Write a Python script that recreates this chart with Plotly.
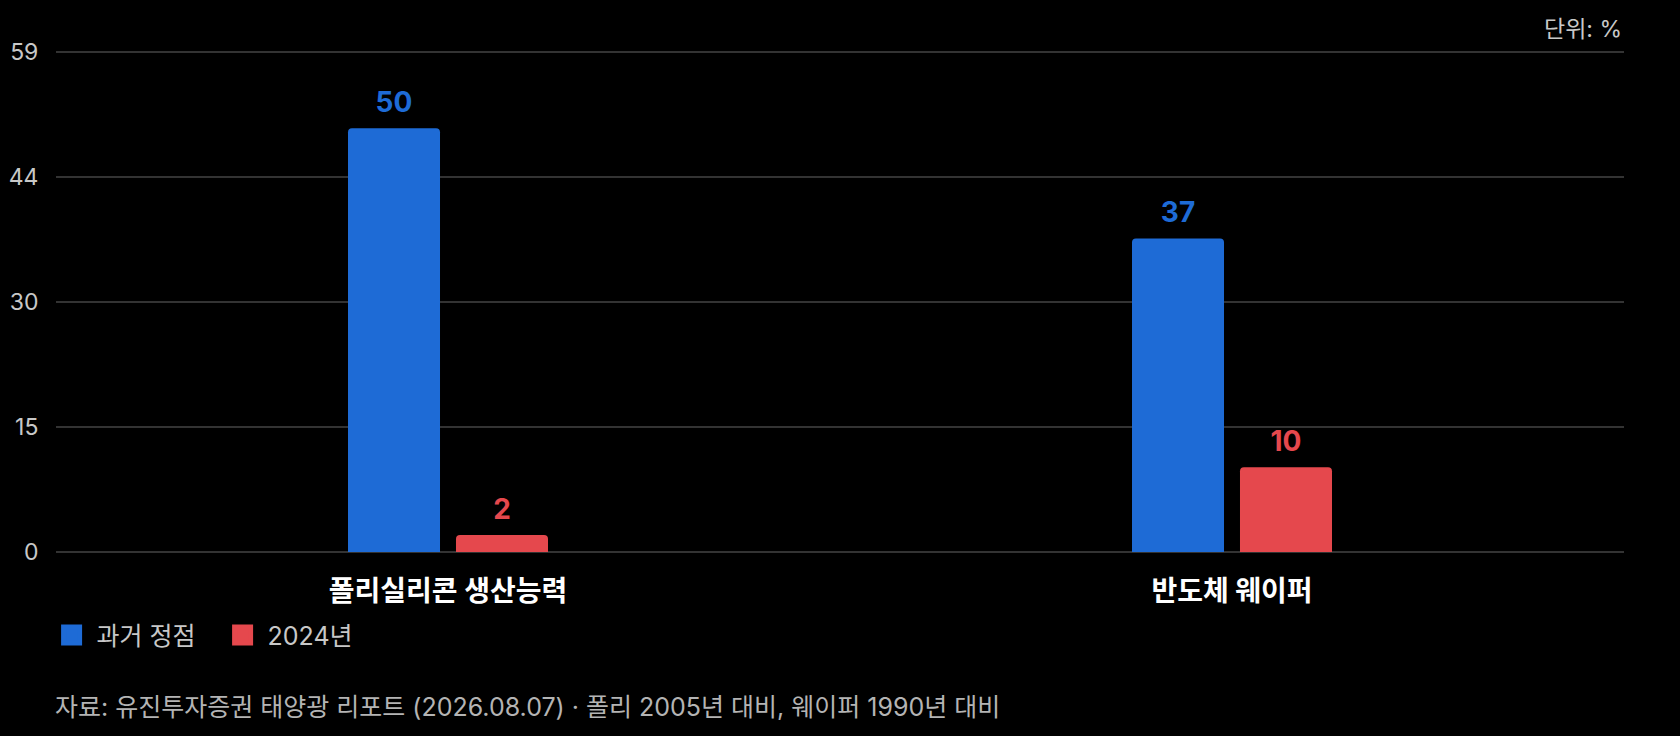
import plotly.graph_objects as go

# Data
categories = ["폴리실리콘 생산능력", "반도체 웨이퍼"]
series_names = ["과거 정점", "2024년"]
past_peak = [50, 37]
year_2024 = [2, 10]
y_tick_vals = [0, 14.75, 29.5, 44.25, 59]
y_tick_labels = ["0", "15", "30", "44", "59"]
unit_label = "단위: %"
source_note = "자료: 유진투자증권 태양광 리포트 (2026.08.07) · 폴리 2005년 대비, 웨이퍼 1990년 대비"

BLUE = "#1e6bd6"
RED = "#e5484d"
FONT = "Inter, Noto Sans CJK KR"

fig = go.Figure()

series = [(series_names[0], past_peak, BLUE, "a"), (series_names[1], year_2024, RED, "b")]

for name, vals, color, grp in series:
    fig.add_trace(go.Bar(x=categories, y=vals, name=name, showlegend=False,
                         marker=dict(color=color, cornerradius=4, line=dict(width=0)),
                         offsetgroup=grp, hoverinfo="skip"))

# value labels above the bars
for name, vals, color, grp in series:
    fig.add_trace(go.Scatter(x=categories, y=vals, mode="markers+text",
                             text=["<b>%d</b>" % v for v in vals],
                             textposition="top center",
                             textfont=dict(family=FONT, size=28, color=color),
                             marker=dict(size=13, opacity=0),
                             offsetgroup=grp, showlegend=False,
                             hoverinfo="skip", cliponaxis=False))

# legend swatches (bigger than the default bar swatch)
for name, vals, color, grp in series:
    fig.add_trace(go.Scatter(x=[None], y=[None], mode="markers", name=name,
                             marker=dict(symbol="square", size=16, color=color,
                                         line=dict(color=color, width=5)),
                             hoverinfo="skip"))

fig.update_layout(
    template="none",
    width=1680, height=736,
    paper_bgcolor="#000000", plot_bgcolor="#000000",
    margin=dict(l=56, r=56, t=51, b=184),
    font=dict(family=FONT, size=23, color="#c8c8c8"),
    barmode="group", scattermode="group",
    bargap=0.7245, bargroupgap=0.148,
    showlegend=True,
    legend=dict(orientation="h", x=-0.006, xanchor="left", y=-0.166, yanchor="middle",
                font=dict(family=FONT, size=25, color="#c8c8c8"),
                itemwidth=40, entrywidth=116,
                bgcolor="rgba(0,0,0,0)", itemclick=False, itemdoubleclick=False),
    annotations=[
        dict(text=unit_label, xref="paper", yref="paper", x=1, y=1, yshift=22,
             xanchor="right", yanchor="middle", showarrow=False,
             font=dict(family=FONT, size=23, color="#c8c8c8")),
        dict(text=source_note, xref="paper", yref="paper", x=0, y=0, yshift=-155,
             xshift=-3, xanchor="left", yanchor="middle", showarrow=False,
             font=dict(family=FONT, size=25, color="#b4b4b4")),
    ],
)

fig.update_xaxes(showgrid=False, showline=False, zeroline=False,
                 ticks="outside", ticklen=14, tickcolor="rgba(0,0,0,0)",
                 tickfont=dict(family=FONT, size=28, color="#ffffff", weight="bold"))
fig.update_yaxes(range=[0, 59.12], tickvals=y_tick_vals, ticktext=y_tick_labels,
                 showgrid=True, gridcolor="#333333", gridwidth=2,
                 zeroline=True, zerolinecolor="#333333", zerolinewidth=2,
                 showline=False, ticks="outside", ticklen=12, tickcolor="rgba(0,0,0,0)",
                 tickfont=dict(family=FONT, size=23, color="#c8c8c8"))

fig.write_html("out.html", config={"displayModeBar": False},
               post_script="document.body.style.margin='0px';")
